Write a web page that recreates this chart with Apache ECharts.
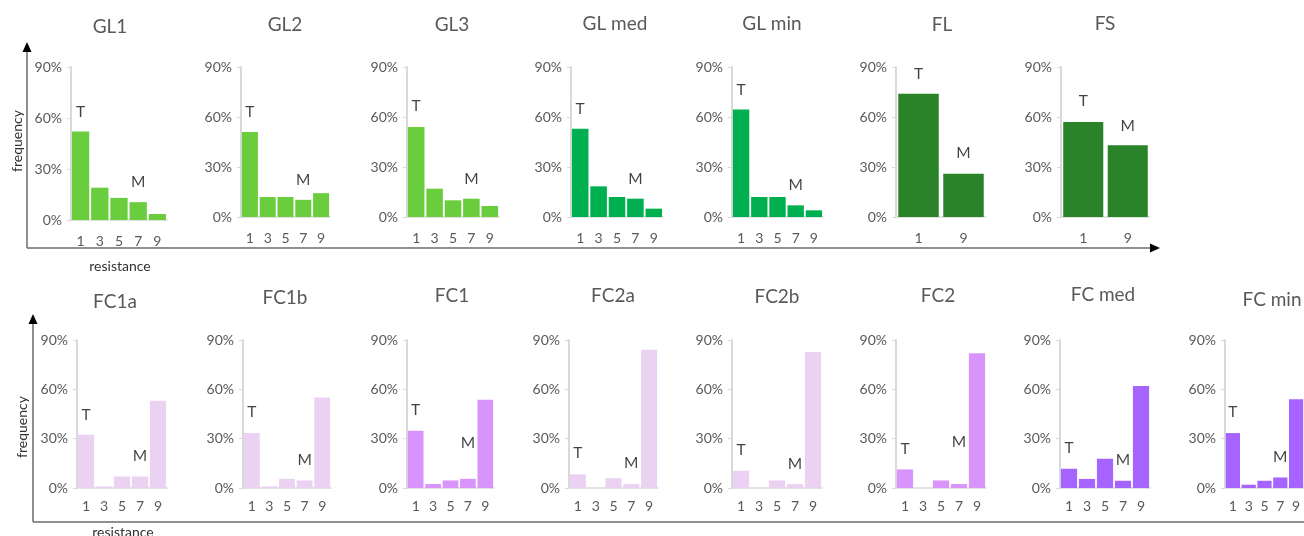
<!DOCTYPE html>
<html>
<head>
<meta charset="utf-8">
<script src="https://cdn.jsdelivr.net/npm/echarts@6/dist/echarts.min.js"></script>
<style>
  html, body { margin: 0; padding: 0; background: #ffffff; }
  #chart { width: 1304px; height: 536px; }
</style>
</head>
<body>
<div id="chart"></div>
<script>
// Resistance classes on the horizontal axes
const res5 = ['1', '3', '5', '7', '9'];
const res2 = ['1', '9'];
const yTicks = [0, 30, 60, 90]; // frequency ticks, %

// Frequency (%) per resistance class
const GL1   = [52, 19, 13, 10.5, 3.5];
const GL2   = [51, 12, 12, 10.3, 14.3];
const GL3   = [54, 17, 10, 11, 6.6];
const GLmed = [53, 18.4, 12, 11, 5];
const GLmin = [64.5, 12, 12, 7, 4];
const FL    = [74, 26];
const FS    = [57, 43];
const FC1a  = [32.4, 1, 7, 7, 53];
const FC1b  = [33.4, 1, 5.6, 4.6, 55];
const FC1   = [34.8, 2.4, 4.6, 5.6, 53.6];
const FC2a  = [8.3, 0, 6, 2.4, 84];
const FC2b  = [10.5, 0, 4.6, 2.4, 82.7];
const FC2   = [11.3, 0, 4.6, 2.4, 82];
const FCmed = [11.7, 5.5, 17.8, 4.4, 62];
const FCmin = [33.4, 2, 4.4, 6.4, 54];

// Colours
const C = {
  lightGreen: '#6acd3e',
  green: '#00b050',
  darkGreen: '#2a8229',
  lavender: '#ecd2f2',
  orchid: '#d994fb',
  purple: '#a564ff'
};

// Panel layout: plot box, title centre, T / M annotation anchors (category index, level %)
const panels = [
  { name: 'GL1',    values: GL1,   cats: res5, color: C.lightGreen, box: [71, 67, 96, 153],  title: [110, 27],  T: [0, 63.7], M: [3, 22.5] },
  { name: 'GL2',    values: GL2,   cats: res5, color: C.lightGreen, box: [241, 67, 89, 150], title: [285, 25],  T: [0, 63],   M: [3, 22.3] },
  { name: 'GL3',    values: GL3,   cats: res5, color: C.lightGreen, box: [407, 67, 92, 150], title: [452, 25],  T: [0, 66.4], M: [3, 23] },
  { name: 'GL med', values: GLmed, cats: res5, color: C.green,      box: [571, 67, 92, 150], title: [615, 24],  T: [0, 65],   M: [3, 23] },
  { name: 'GL min', values: GLmin, cats: res5, color: C.green,      box: [732, 67, 91, 150], title: [772, 24],  T: [0, 76.4], M: [3, 19] },
  { name: 'FL',     values: FL,    cats: res2, color: C.darkGreen,  box: [896, 67, 90, 150], title: [942, 25],  T: [0, 85.6], M: [1, 38.4] },
  { name: 'FS',     values: FS,    cats: res2, color: C.darkGreen,  box: [1061, 67, 89, 150],title: [1105, 24], T: [0, 69.4], M: [1, 54.4] },

  { name: 'FC1a',   values: FC1a,  cats: res5, color: C.lavender,   box: [77, 340, 90, 148],  title: [115, 302],  T: [0, 44.5], M: [3, 19.2] },
  { name: 'FC1b',   values: FC1b,  cats: res5, color: C.lavender,   box: [243, 340, 88, 148], title: [285, 298],  T: [0, 46.5], M: [3, 17.2] },
  { name: 'FC1',    values: FC1,   cats: res5, color: C.orchid,     box: [407, 340, 87, 148], title: [452, 296],  T: [0, 47.5], M: [3, 27.3] },
  { name: 'FC2a',   values: FC2a,  cats: res5, color: C.lavender,   box: [569, 340, 89, 148], title: [613, 296],  T: [0, 21.2], M: [3, 15.2] },
  { name: 'FC2b',   values: FC2b,  cats: res5, color: C.lavender,   box: [732, 340, 90, 148], title: [777, 297],  T: [0, 23.2], M: [3, 14.7] },
  { name: 'FC2',    values: FC2,   cats: res5, color: C.orchid,     box: [896, 340, 90, 148], title: [938, 296],  T: [0, 23.7], M: [3, 27.7] },
  { name: 'FC med', values: FCmed, cats: res5, color: C.purple,     box: [1060, 340, 90, 148],title: [1103, 295], T: [0, 24.3], M: [3, 17.2] },
  { name: 'FC min', values: FCmin, cats: res5, color: C.purple,     box: [1225, 340, 90, 148],title: [1272, 300], T: [0, 46.5], M: [3, 18.8] }
];

const FONT = 'Lato, "Open Sans", sans-serif';
const AXIS_GREY = '#d9d9d9';
const TEXT_GREY = '#595959';

const grid = [], xAxis = [], yAxis = [], series = [], graphic = [];

panels.forEach((p, i) => {
  const [left, top, width, height] = p.box;
  grid.push({ left, top, width, height, containLabel: false });
  xAxis.push({
    type: 'category', gridIndex: i, data: p.cats,
    axisLine: { show: true, lineStyle: { color: AXIS_GREY, width: 1.5 } },
    axisTick: { show: false },
    axisLabel: { color: TEXT_GREY, fontFamily: FONT, fontSize: 14, margin: p.box[1] < 200 ? 14 : 11 }
  });
  yAxis.push({
    type: 'value', gridIndex: i, min: yTicks[0], max: yTicks[yTicks.length - 1], interval: 30,
    splitLine: { show: false },
    axisLine: { show: true, lineStyle: { color: AXIS_GREY, width: 2 } },
    axisTick: { show: true, length: 4, lineStyle: { color: AXIS_GREY } },
    axisLabel: { color: TEXT_GREY, fontFamily: FONT, fontSize: 14, margin: 9, formatter: '{value}%' }
  });
  series.push({
    type: 'bar', xAxisIndex: i, yAxisIndex: i, data: p.values,
    barCategoryGap: '10%',
    itemStyle: { color: p.color },
    silent: true
  });
  // "T" and "M" markers placed through the panel's own scales
  series.push({
    type: 'scatter', xAxisIndex: i, yAxisIndex: i, symbolSize: 0,
    itemStyle: { color: 'rgba(0,0,0,0)' },
    data: [
      { value: p.T, name: 'T' },
      { value: p.M, name: 'M' }
    ],
    label: {
      show: true, position: 'inside', formatter: '{b}',
      color: '#111111', fontFamily: FONT, fontSize: 15.5
    },
    silent: true
  });
  graphic.push({
    type: 'text', x: p.title[0], y: p.title[1],
    style: { text: p.name, fill: TEXT_GREY, font: '19px ' + FONT, textAlign: 'center', textVerticalAlign: 'middle' }
  });
});

// Row frames: frequency (up) and resistance (right) arrows
const LINE = '#6b6b6b';
graphic.push(
  { type: 'line', shape: { x1: 27, y1: 248, x2: 27, y2: 50 }, style: { stroke: LINE, lineWidth: 1.5 } },
  { type: 'polygon', shape: { points: [[27, 42], [22.5, 52], [31.5, 52]] }, style: { fill: '#000' } },
  { type: 'line', shape: { x1: 27, y1: 248, x2: 1151, y2: 248 }, style: { stroke: LINE, lineWidth: 1.5 } },
  { type: 'polygon', shape: { points: [[1160, 248], [1150, 243.5], [1150, 252.5]] }, style: { fill: '#000' } },
  { type: 'text', x: 17, y: 141, rotation: Math.PI / 2,
    style: { text: 'frequency', fill: '#333', font: '14px ' + FONT, textAlign: 'center', textVerticalAlign: 'middle' } },
  { type: 'text', x: 120, y: 266,
    style: { text: 'resistance', fill: '#333', font: '14px ' + FONT, textAlign: 'center', textVerticalAlign: 'middle' } },

  { type: 'line', shape: { x1: 33, y1: 522, x2: 33, y2: 322 }, style: { stroke: LINE, lineWidth: 1.5 } },
  { type: 'polygon', shape: { points: [[33, 314], [28.5, 324], [37.5, 324]] }, style: { fill: '#000' } },
  { type: 'line', shape: { x1: 33, y1: 522, x2: 1304, y2: 522 }, style: { stroke: LINE, lineWidth: 1.5 } },
  { type: 'text', x: 22, y: 427, rotation: Math.PI / 2,
    style: { text: 'frequency', fill: '#333', font: '14px ' + FONT, textAlign: 'center', textVerticalAlign: 'middle' } },
  { type: 'text', x: 123, y: 532,
    style: { text: 'resistance', fill: '#333', font: '14px ' + FONT, textAlign: 'center', textVerticalAlign: 'middle' } }
);

const chart = echarts.init(document.getElementById('chart'));
chart.setOption({
  animation: false,
  backgroundColor: '#ffffff',
  grid, xAxis, yAxis, series, graphic
});
</script>
</body>
</html>
